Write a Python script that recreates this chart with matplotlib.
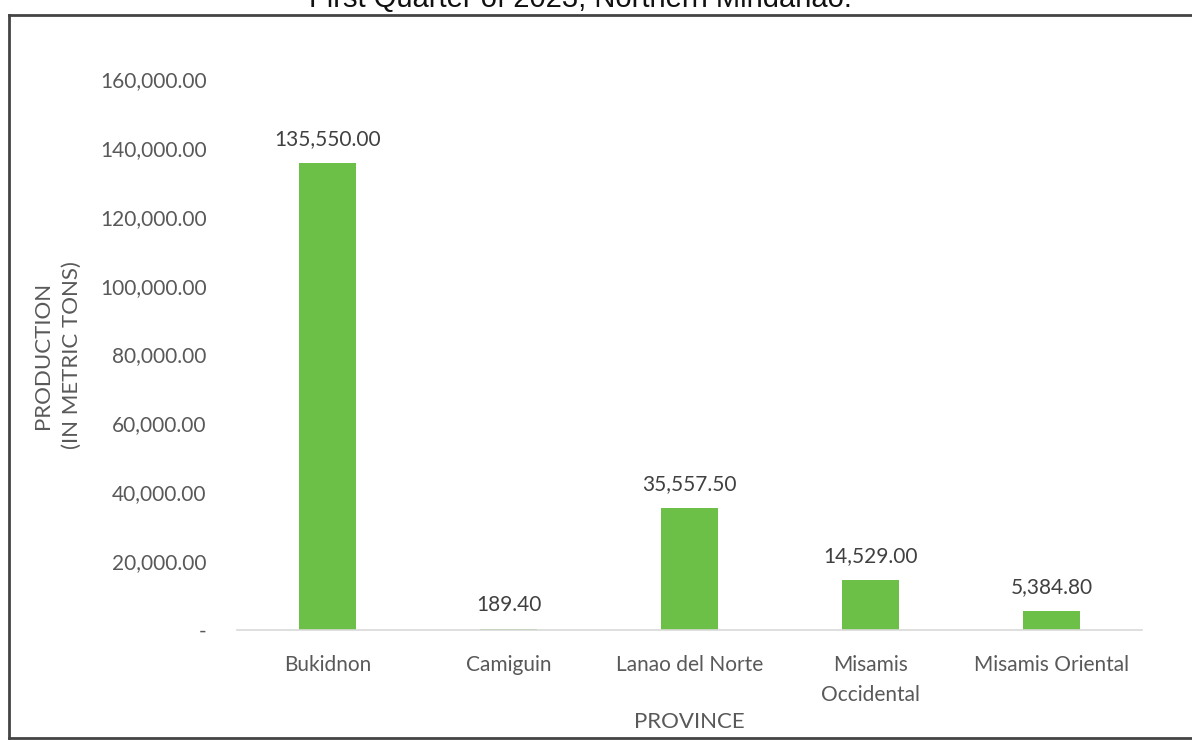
import matplotlib
matplotlib.use("Agg")
import matplotlib.pyplot as plt
from matplotlib.lines import Line2D
from matplotlib.ticker import FuncFormatter

provinces = ["Bukidnon", "Camiguin", "Lanao del Norte", "Misamis\nOccidental", "Misamis Oriental"]
production = [135550.00, 189.40, 35557.50, 14529.00, 5384.80]
yticks = [0, 20000, 40000, 60000, 80000, 100000, 120000, 140000, 160000]
title = "First Quarter of 2023, Northern Mindanao."

plt.rcParams['font.family'] = ['Lato', 'DejaVu Sans']

fig = plt.figure(figsize=(11.92, 7.4), dpi=100)
ax = fig.add_axes([237/1192, 1-630/740, (1142-237)/1192, (630-79)/740])

x = list(range(len(provinces)))
bars = ax.bar(x, production, width=0.31, color="#6cbf47")
ax.set_xlim(-0.5, len(provinces)-0.5)
ax.set_ylim(0, 160000)
ax.set_yticks(yticks)

def fmt(v, pos=None):
    if v == 0:
        return "-"
    return f"{v:,.2f}"

ax.yaxis.set_major_formatter(FuncFormatter(fmt))
ax.set_xticks(x)
ax.set_xticklabels(provinces)
ax.tick_params(axis='y', length=0, pad=22, labelsize=15, labelcolor="#595959")
ax.tick_params(axis='x', length=0, pad=18, labelsize=15, labelcolor="#595959")
for lbl in ax.get_xticklabels():
    lbl.set_linespacing(1.6)

for s in ["top", "right", "left"]:
    ax.spines[s].set_visible(False)
ax.spines["bottom"].set_color("#d9d9d9")
ax.spines["bottom"].set_linewidth(1.2)

for xi, v in zip(x, production):
    ax.annotate(f"{v:,.2f}", (xi, v), xytext=(0, 10), textcoords="offset points",
                ha="center", va="bottom", fontsize=15, color="#404040")

fig.text(689/1192, 1-722/740, "PROVINCE", ha="center", va="center", fontsize=16, color="#595959")
fig.text(57/1192, 1-355/740, "PRODUCTION\n(IN METRIC TONS)", rotation=90, ha="center", va="center",
         fontsize=16, color="#595959", linespacing=1.55)

fig.text(580/1192, 1-7/740, title, ha="center", va="baseline", fontsize=21,
         family=["Liberation Sans"], color="#111111")

fig.add_artist(Line2D([9/1192, 1], [1-15/740, 1-15/740], transform=fig.transFigure, color="#444444", lw=2))
fig.add_artist(Line2D([9/1192, 9/1192], [1-15/740, 1-738/740], transform=fig.transFigure, color="#444444", lw=2))
fig.add_artist(Line2D([9/1192, 1], [1-738/740, 1-738/740], transform=fig.transFigure, color="#444444", lw=2))

fig.savefig("out.png", dpi=100, facecolor="white")
